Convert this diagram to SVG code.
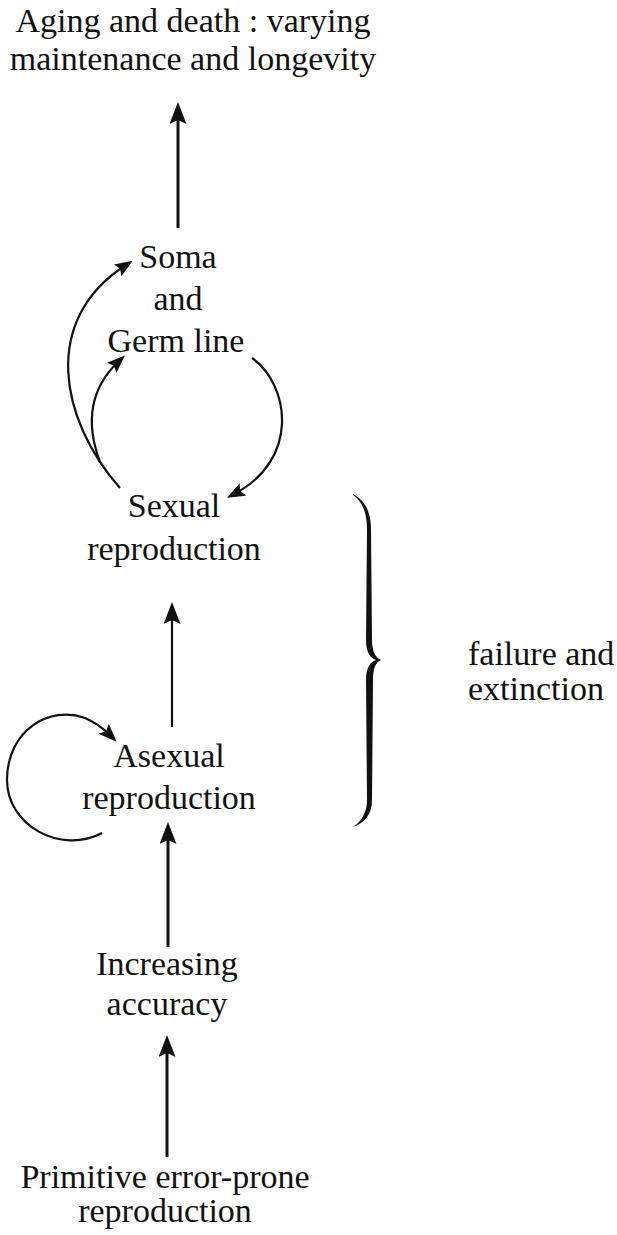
<svg xmlns="http://www.w3.org/2000/svg" width="617" height="1235" viewBox="0 0 617 1235">
<style>
text{font-family:"Liberation Serif","Times New Roman",serif;font-size:34px;fill:#111;text-anchor:middle}
.ln{fill:none;stroke:#111;stroke-linecap:butt}
.thick{stroke-width:3}
.thin{stroke-width:2.2}
</style>
<defs>
<marker id="ah" viewBox="0 0 22 17" refX="12" refY="8.5" markerWidth="22" markerHeight="17" markerUnits="userSpaceOnUse" orient="auto">
<path d="M0,0 L22,8.5 L0,17 L4,8.5 Z" fill="#111"/>
</marker>
<marker id="ahs" viewBox="0 0 18 14" refX="10" refY="7" markerWidth="18" markerHeight="14" markerUnits="userSpaceOnUse" orient="auto">
<path d="M0,0 L18,7 L0,14 L3,7 Z" fill="#111"/>
</marker>
</defs>
<g id="aging"><text x="193" y="32">Aging and death : varying</text><text x="193" y="70">maintenance and longevity</text></g>
<g id="soma"><text x="178" y="268">Soma</text><text x="178" y="310">and</text><text x="176" y="352">Germ line</text></g>
<g id="sexual"><text x="174" y="517">Sexual</text><text x="174" y="560">reproduction</text></g>
<g id="asexual"><text x="169" y="767">Asexual</text><text x="169" y="809">reproduction</text></g>
<g id="increasing"><text x="167" y="975">Increasing</text><text x="167" y="1015">accuracy</text></g>
<g id="primitive"><text x="165" y="1188">Primitive error-prone</text><text x="165" y="1222">reproduction</text></g>
<g id="failure"><text x="468" y="665" style="text-anchor:start">failure and</text><text x="468" y="700" style="text-anchor:start">extinction</text>
<path id="brace" fill="#111" d="M353,494 C364,500 371,510 371,530 L372,640 C372,652 376,658 381,660 C376,662 373,668 373,680 L372,800 C372,815 364,823 353,827 C362,821 367,812 367,800 L366,680 C366,668 370,662 376,660 C370,658 366,652 366,640 L367,530 C367,512 362,501 353,495 Z"/></g>
<g id="connectors">
<line class="ln thick" x1="178" y1="228" x2="178" y2="112" marker-end="url(#ah)"/>
<line class="ln thin" x1="172" y1="727" x2="172" y2="612" marker-end="url(#ah)"/>
<line class="ln thick" x1="168" y1="947" x2="168" y2="832" marker-end="url(#ah)"/>
<line class="ln thick" x1="167" y1="1157" x2="167" y2="1045" marker-end="url(#ah)"/>
<path class="ln thin" d="M120,488 C60,420 40,320 126,265" marker-end="url(#ahs)"/>
<path class="ln thin" d="M100,462 C88,430 86,392 119,361" marker-end="url(#ahs)"/>
<path class="ln thin" d="M252,358 C290,385 300,460 234,494" marker-end="url(#ahs)"/>
<path class="ln thin" d="M102,833 C60,855 7,825 7,780 C7,730 50,705 85,718 C97,723 104,729 111,736" marker-end="url(#ahs)"/>
</g>
</svg>
